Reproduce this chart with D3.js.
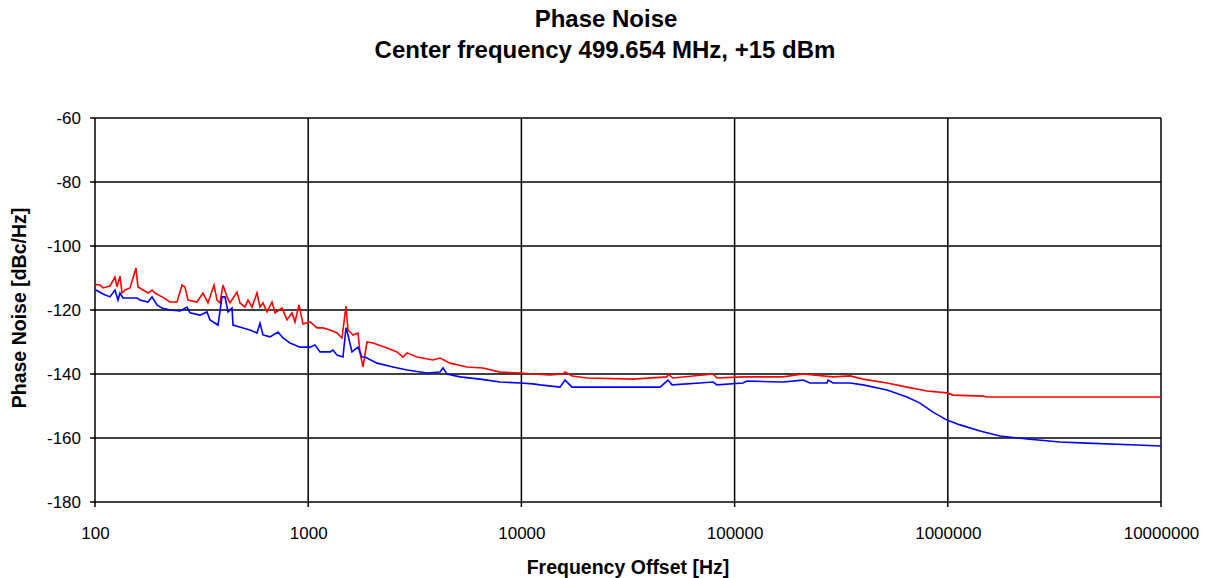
<!DOCTYPE html>
<html><head><meta charset="utf-8">
<script src="https://cdn.jsdelivr.net/npm/d3@7"></script>
<style>body{margin:0;background:#fff}svg{display:block}text{font-family:"Liberation Sans",Arial,sans-serif}</style>
</head><body>
<svg id="c" width="1210" height="578"></svg>
<script>
const titleText = "Phase Noise";
const subtitleText = "Center frequency 499.654 MHz, +15 dBm";
const xLabel = "Frequency Offset [Hz]";
const yLabel = "Phase Noise [dBc/Hz]";
const xTicks = [100, 1000, 10000, 100000, 1000000, 10000000];
const yTicks = [-60, -80, -100, -120, -140, -160, -180];

const redFreq = [100,105.5,109,117.6,124.1,126.8,131,133.9,138.2,146,155.7,159.1,168,177.3,185.1,191.2,206.2,224.8,242.5,255.9,264.3,273.1,300.9,321,338.8,361.5,373.4,385.7,398.5,416.1,429.8,463.5,478.8,505.3,521.9,544.9,575.2,594.2,613.8,641,676.5,698.8,753.6,795.5,839.5,867.2,905.4,945.4,1019.6,1100,1173,1266,1365,1441,1504,1537,1623,1713,1750,1807,1887,2014,2342,2609,2785,2907,3238,3849,4152,4625,5556,6605,7937,9849,11336,13620,15677,16020,17277,20318,33381,48194,48718,51424,79193,82688,109500,168660,209410,289480,347840,400420,518530,643720,798900,991300,1057800,1462400,1527200,10000000];
const redDb = [-112,-112.2,-113.1,-112.5,-109.7,-112.8,-109.4,-114.7,-113.75,-113.1,-106.9,-112.8,-113.75,-114.7,-113.75,-114.7,-115.9,-117.5,-117.5,-112.2,-112.8,-116.9,-117.5,-114.7,-117.8,-112.2,-116.9,-117.8,-112.2,-115.9,-117.8,-114.4,-117.8,-119.1,-116.9,-119.1,-114.7,-119.1,-117.8,-120.6,-117.5,-120.9,-119.4,-123.1,-120.9,-123.75,-118.4,-124.4,-123.75,-125.6,-125.6,-126.25,-127.2,-128.75,-118.75,-126.25,-127.8,-127.2,-133.4,-137.8,-130,-130.3,-131.9,-133.1,-134.7,-133.4,-134.7,-135.6,-135,-136.6,-137.8,-138.1,-139.4,-139.7,-140,-140.3,-140,-139.4,-140.6,-141.25,-141.6,-140.9,-140,-141.25,-140,-141.25,-140.9,-140.9,-140,-140.9,-140.6,-141.6,-142.8,-144.1,-145.3,-145.9,-146.6,-146.9,-147.2,-147.2];

const blueFreq = [100,109,117.6,124.1,128.2,131,135.3,157.4,162.6,177.3,185.1,195.4,206.2,224.8,250.4,270.1,279,310.8,335.2,346.2,377.5,394.2,407.2,420.6,439.2,444,494.5,533.3,575.2,594.2,613.8,662,721.8,761.8,821.6,915.3,1019.6,1076,1136,1266,1307,1365,1456,1504,1537,1605,1713,1788,1847,2102,2499,2907,3608,4152,4289,4477,5152,6394,7937,9849,11336,12228,15177,16020,17277,44688,48718,50871,68817,79193,82688,109500,114340,168660,209410,225830,271330,274280,289480,347840,400420,518530,643720,740640,852180,991300,1140900,1415800,1757000,2352000,3360000,4497000,7718000,10000000];
const blueDb = [-113.6,-115,-115.9,-113.75,-116.9,-114.7,-116.25,-116.25,-116.9,-117.5,-115.9,-118.4,-119.4,-120,-120.3,-119.1,-120.9,-121.6,-120.6,-123.1,-124.7,-115.9,-115.9,-120.6,-119.4,-124.7,-125.6,-126.25,-127.2,-124.1,-127.8,-128.4,-126.9,-128.75,-130.3,-131.6,-131.6,-130.9,-133.1,-133.1,-132.5,-134.1,-134.7,-125.5,-127.8,-133.1,-131.6,-134.7,-134.7,-136.6,-137.8,-138.75,-139.7,-139.4,-138.1,-140,-140.9,-141.6,-142.5,-142.8,-143.1,-143.4,-144.1,-141.9,-144.1,-144.1,-141.9,-143.4,-142.8,-142.5,-143.4,-142.8,-142.2,-142.5,-141.9,-142.8,-142.8,-141.9,-142.8,-142.8,-143.4,-145,-147.2,-149.1,-151.9,-154.4,-155.9,-157.8,-159.4,-160.3,-161.25,-161.6,-162.2,-162.5];

const svg = d3.select("#c");
const L = 95, R = 1161, T = 118, B = 502;
const x = d3.scaleLog().domain([100, 10000000]).range([L, R]);
const y = d3.scaleLinear().domain([-180, -60]).range([B, T]);

svg.append("text").attr("x", 606).attr("y", 27).attr("text-anchor", "middle")
  .attr("font-weight", "bold").attr("font-size", 24).text(titleText);
svg.append("text").attr("x", 605).attr("y", 58).attr("text-anchor", "middle")
  .attr("font-weight", "bold").attr("font-size", 24).text(subtitleText);

// grid
const g = svg.append("g");
g.selectAll("line.h").data(yTicks).join("line")
  .attr("x1", L - 5).attr("x2", R).attr("y1", d => y(d)).attr("y2", d => y(d))
  .attr("stroke", "#000").attr("stroke-width", 1.5);
g.selectAll("line.v").data(xTicks).join("line")
  .attr("x1", d => x(d)).attr("x2", d => x(d)).attr("y1", T).attr("y2", B + 5)
  .attr("stroke", "#000").attr("stroke-width", 1.5);

const fmt = d => String(d);
const yAx = svg.append("g").attr("transform", `translate(${L - 14},0)`)
  .call(d3.axisLeft(y).tickValues(yTicks).tickSize(0).tickPadding(0).tickFormat(fmt));
yAx.select(".domain").remove();
yAx.selectAll("text").attr("font-size", 17).attr("fill", "#000").attr("font-family", "Liberation Sans, Arial, sans-serif");

const xAx = svg.append("g").attr("transform", `translate(0,${B + 25})`)
  .call(d3.axisBottom(x).tickValues(xTicks).tickSize(0).tickPadding(0).tickFormat(fmt));
xAx.select(".domain").remove();
xAx.selectAll("text").attr("font-size", 17).attr("fill", "#000").attr("font-family", "Liberation Sans, Arial, sans-serif");

svg.append("text").attr("x", 628).attr("y", 574).attr("text-anchor", "middle")
  .attr("font-weight", "bold").attr("font-size", 19.5).text(xLabel);
svg.append("text").attr("transform", "translate(26,308) rotate(-90)").attr("text-anchor", "middle")
  .attr("font-weight", "bold").attr("font-size", 19.5).text(yLabel);

const line = d3.line().x(d => x(d[0])).y(d => y(d[1]));
svg.append("clipPath").attr("id", "cp").append("rect")
  .attr("x", L).attr("y", T).attr("width", R - L).attr("height", B - T);
svg.append("path").datum(d3.zip(redFreq, redDb)).attr("d", line)
  .attr("fill", "none").attr("stroke", "#ff0000").attr("stroke-width", 1.6).attr("clip-path", "url(#cp)");
svg.append("path").datum(d3.zip(blueFreq, blueDb)).attr("d", line)
  .attr("fill", "none").attr("stroke", "#0000ff").attr("stroke-width", 1.6).attr("clip-path", "url(#cp)");
</script>
</body></html>
